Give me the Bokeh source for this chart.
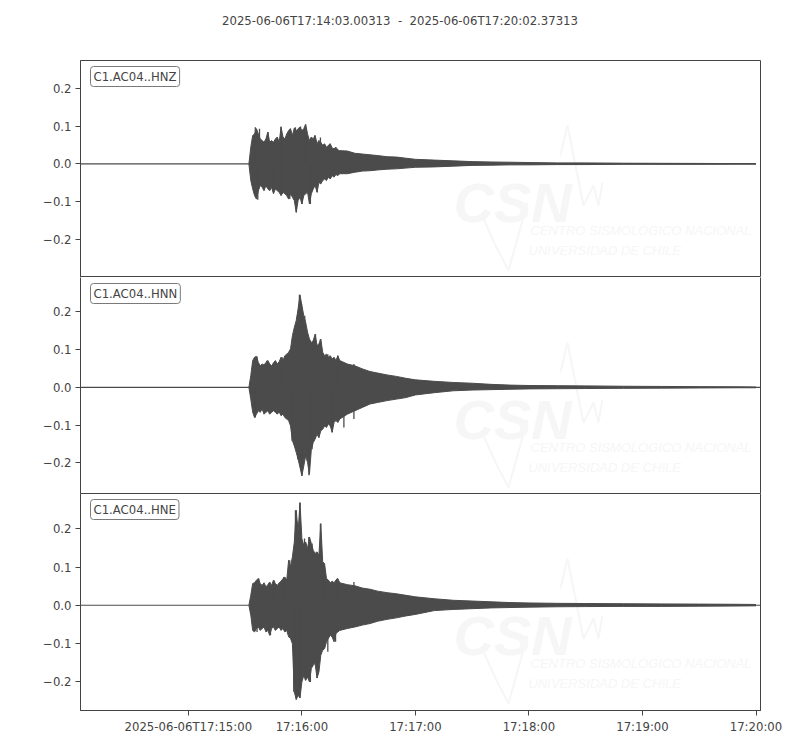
import numpy as np
import pandas as pd
from bokeh.plotting import figure
from bokeh.layouts import column
from bokeh.models import Range1d, FixedTicker, LinearAxis, Label
from bokeh.core.properties import value
from bokeh.embed import file_html
from bokeh.resources import INLINE

# reference time: 2025-06-06T17:15:00, all times in seconds after it
T0 = pd.Timestamp("2025-06-06 17:15:00")
T_START = pd.Timestamp("2025-06-06 17:14:03.00313")
T_STOP = pd.Timestamp("2025-06-06 17:20:02.37313")
TITLE = "2025-06-06T17:14:03.00313 \u00a0-\u00a0 2025-06-06T17:20:02.37313"

STATIONS = ["C1.AC04..HNZ", "C1.AC04..HNN", "C1.AC04..HNE"]
TRACE_END = [300.0, 302.37313, 302.37313]

# envelope sample times (s after 17:15:00): onset, 1 s steps through the strong part, then coarser
T_GRID = ([32] + list(range(33, 81)) +
          [84, 88, 92, 96, 100, 105, 110, 115, 120, 130, 140, 150, 160, 170, 180,
           195, 210, 230, 250, 270, 290, 300])

HNZ_HI = [0,
          0.044, 0.075, 0.079, 0.093, 0.079, 0.066, 0.062, 0.057, 0.066, 0.084, 0.057, 0.062,
          0.057, 0.066, 0.071, 0.057, 0.097, 0.071, 0.066, 0.079, 0.088, 0.093, 0.075, 0.095,
          0.088, 0.093, 0.097, 0.088, 0.093, 0.104, 0.079, 0.062, 0.071, 0.066, 0.075, 0.053,
          0.062, 0.057, 0.049, 0.053, 0.044, 0.049, 0.053, 0.042, 0.040, 0.044, 0.037, 0.035,
          0.034, 0.028, 0.026, 0.024, 0.022, 0.019, 0.018, 0.015, 0.012, 0.010, 0.008, 0.006,
          0.005, 0.0044, 0.0035, 0.0026, 0.0026, 0.0018, 0.0015, 0.0012, 0.0008, 0.0005]
HNZ_LO = [0,
          -0.044, -0.066, -0.084, -0.093, -0.071, -0.057, -0.062, -0.071, -0.057, -0.066,
          -0.071, -0.062, -0.079, -0.066, -0.071, -0.075, -0.084, -0.075, -0.079, -0.084,
          -0.093, -0.079, -0.088, -0.097, -0.128, -0.097, -0.088, -0.106, -0.084, -0.079,
          -0.075, -0.106, -0.079, -0.066, -0.057, -0.075, -0.049, -0.053, -0.044, -0.040,
          -0.044, -0.035, -0.040, -0.031, -0.035, -0.028, -0.031, -0.026,
          -0.026, -0.022, -0.019, -0.018, -0.016, -0.014, -0.013, -0.011, -0.009, -0.008,
          -0.006, -0.004, -0.0035, -0.0026, -0.0026, -0.0018, -0.0018, -0.0009, -0.0009,
          -0.0009, -0.0006, -0.0005]

HNN_HI = [0,
          0.031, 0.071, 0.080, 0.082, 0.066, 0.057, 0.062, 0.059, 0.066, 0.071, 0.062, 0.057,
          0.065, 0.071, 0.062, 0.068, 0.080, 0.071, 0.084, 0.088, 0.093, 0.102, 0.137, 0.159,
          0.177, 0.208, 0.245, 0.217, 0.190, 0.172, 0.146, 0.128, 0.119, 0.124, 0.141, 0.111,
          0.115, 0.128, 0.093, 0.084, 0.088, 0.080, 0.084, 0.075, 0.080, 0.071, 0.084, 0.071,
          0.062, 0.057, 0.049, 0.042, 0.038, 0.033, 0.029, 0.024, 0.020, 0.016, 0.013, 0.011,
          0.008, 0.006, 0.005, 0.0045, 0.004, 0.003, 0.0025, 0.002, 0.0015, 0.001]
HNN_LO = [0,
          -0.031, -0.066, -0.080, -0.071, -0.062, -0.066, -0.057, -0.071, -0.066, -0.062,
          -0.071, -0.066, -0.062, -0.066, -0.071, -0.065, -0.075, -0.071, -0.080, -0.084,
          -0.088, -0.102, -0.141, -0.155, -0.172, -0.190, -0.212, -0.234, -0.208, -0.181,
          -0.199, -0.230, -0.164, -0.146, -0.137, -0.124, -0.133, -0.115, -0.111, -0.102,
          -0.106, -0.097, -0.102, -0.119, -0.093, -0.088, -0.093, -0.084,
          -0.071, -0.062, -0.053, -0.044, -0.040, -0.035, -0.031, -0.027, -0.020, -0.014,
          -0.009, -0.007, -0.006, -0.005, -0.004, -0.0035, -0.003, -0.0025, -0.002,
          -0.0015, -0.001, -0.001]

HNE_HI = [0,
          0.026, 0.057, 0.059, 0.066, 0.070, 0.057, 0.052, 0.059, 0.048, 0.054, 0.061, 0.052,
          0.066, 0.057, 0.052, 0.059, 0.063, 0.070, 0.074, 0.066, 0.118, 0.101, 0.127, 0.166,
          0.249, 0.192, 0.269, 0.175, 0.157, 0.166, 0.149, 0.179, 0.162, 0.144, 0.136, 0.140,
          0.131, 0.214, 0.114, 0.109, 0.070, 0.066, 0.059, 0.063, 0.059, 0.066, 0.070, 0.059,
          0.054, 0.051, 0.045, 0.042, 0.037, 0.033, 0.030, 0.026, 0.022, 0.017, 0.013, 0.011,
          0.009, 0.007, 0.006, 0.005, 0.0045, 0.004, 0.0035, 0.003, 0.0025, 0.002]
HNE_LO = [0,
          -0.026, -0.066, -0.070, -0.061, -0.057, -0.066, -0.061, -0.057, -0.070, -0.066,
          -0.079, -0.061, -0.057, -0.066, -0.061, -0.057, -0.066, -0.061, -0.070, -0.066,
          -0.083, -0.087, -0.101, -0.227, -0.247, -0.236, -0.243, -0.201, -0.184, -0.197,
          -0.188, -0.201, -0.166, -0.157, -0.153, -0.191, -0.175, -0.131, -0.118, -0.114,
          -0.096, -0.087, -0.079, -0.083, -0.096, -0.074, -0.070, -0.066,
          -0.061, -0.057, -0.052, -0.048, -0.042, -0.037, -0.033, -0.028, -0.024, -0.014,
          -0.011, -0.009, -0.007, -0.006, -0.005, -0.004, -0.0035, -0.003, -0.003, -0.0025,
          -0.002, -0.0015]

# single large cycles standing out of the envelope
HNZ_SPK_T = [35.4, 37.6, 42.1, 49.0, 53.9, 56.6, 59.3, 61.9, 66.7, 69.8, 74.8,
             36.7, 44.8, 49.6, 53.6, 57.1, 60.1, 64.5, 68.1]
HNZ_SPK_A = [0.097, 0.093, 0.084, 0.099, 0.093, 0.097, 0.099, 0.104, 0.075, 0.070, 0.053,
             -0.095, -0.070, -0.079, -0.093, -0.128, -0.106, -0.106, -0.075]
HNN_SPK_T = [36.3, 41.6, 49.6, 58.7, 59.8, 61.5, 67.2, 69.8, 73.7, 79.0, 87.5,
             35.4, 54.8, 57.8, 60.1, 63.7, 65.4, 68.9, 76.0, 82.2, 87.5]
HNN_SPK_A = [0.082, 0.071, 0.080, 0.245, 0.221, 0.190, 0.141, 0.128, 0.088, 0.084, 0.062,
             -0.080, -0.141, -0.190, -0.234, -0.233, -0.164, -0.133, -0.119, -0.106, -0.084]
HNE_SPK_T = [37.2, 45.1, 50.4, 53.6, 56.6, 58.9, 57.5, 61.4, 63.7, 65.4, 69.8, 71.6, 78.7, 87.5,
             36.3, 43.4, 55.7, 57.1, 58.9, 61.9, 64.5, 68.1, 73.7, 77.8]
HNE_SPK_A = [0.070, 0.066, 0.074, 0.118, 0.249, 0.269, 0.219, 0.175, 0.179, 0.162, 0.214, 0.109,
             0.070, 0.061,
             -0.070, -0.079, -0.227, -0.247, -0.243, -0.197, -0.201, -0.191, -0.122, -0.096]

Y_TICKS = [-0.2, -0.1, 0.0, 0.1, 0.2]
Y_LABELS = ["\u22120.2", "\u22120.1", "0.0", "0.1", "0.2"]
X_TICKS = ["2025-06-06 17:15:00", "2025-06-06 17:16:00", "2025-06-06 17:17:00",
           "2025-06-06 17:18:00", "2025-06-06 17:19:00", "2025-06-06 17:20:00"]
X_LABELS = ["2025-06-06T17:15:00", "17:16:00", "17:17:00", "17:18:00", "17:19:00", "17:20:00"]

Y_RANGES = [(-0.300, 0.273), (-0.281, 0.291), (-0.276, 0.293)]
FRAME_H = [217, 216, 217]
FRAME_W = 680

WAVE = "#4b4b4b"
AX = "#444444"
TXT = "#444444"
FONT = "DejaVu Sans"
FS = "11.7px"
WM = "#f6f6f6"


def ms(sec):
    return T0.value / 1e6 + np.asarray(sec, dtype=float) * 1000.0


def ts_ms(s):
    return pd.Timestamp(s).value / 1e6


xr = Range1d(start=ts_ms(T_START), end=ts_ms(T_STOP))

# title strip above the three panels; its frame lines up with the panels (x from the frame's left edge)
head = figure(frame_width=FRAME_W, frame_height=60, x_range=Range1d(0, FRAME_W),
              y_range=Range1d(60, 0), output_backend="svg", toolbar_location=None,
              x_axis_location=None, y_axis_location=None,
              min_border_left=80, min_border_right=30, min_border_top=0, min_border_bottom=0)
head.grid.visible = False
head.outline_line_color = None
head.text(x=[319.5], y=[20], text=[TITLE], text_align="center", text_baseline="middle",
          text_font=value(FONT), text_font_size=FS, text_color=TXT)

data = [(HNZ_HI, HNZ_LO, HNZ_SPK_T, HNZ_SPK_A),
        (HNN_HI, HNN_LO, HNN_SPK_T, HNN_SPK_A),
        (HNE_HI, HNE_LO, HNE_SPK_T, HNE_SPK_A)]

figs = [head]
for i, name in enumerate(STATIONS):
    hi, lo, spk_t, spk_a = data[i]
    y0, y1 = Y_RANGES[i]
    fh = FRAME_H[i]
    last = i == 2
    p = figure(frame_width=FRAME_W, frame_height=fh, x_range=xr, y_range=Range1d(y0, y1),
               x_axis_type="datetime", x_axis_location="below" if last else None,
               output_backend="svg", toolbar_location=None,
               min_border_left=80, min_border_right=30,
               min_border_top=0, min_border_bottom=30 if last else 0)
    p.xgrid.visible = False
    p.ygrid.visible = False
    p.background_fill_color = "white"
    p.border_fill_color = "white"

    # helpers: frame pixel -> data
    def fx(px):
        return xr.start + px / FRAME_W * (xr.end - xr.start)

    def fy(py):
        return y1 - py / fh * (y1 - y0)

    # faint CSN watermark
    p.text(x=[fx(373)], y=[fy(142)], text=["CSN"], text_font=value("Liberation Sans"),
           text_font_style="bold italic", text_font_size="56px", text_color=WM,
           text_baseline="alphabetic")
    p.text(x=[fx(450), fx(448)], y=[fy(170), fy(190)],
           text=["CENTRO SISMOLÓGICO NACIONAL", "UNIVERSIDAD DE CHILE"],
           text_font=value("Liberation Sans"), text_font_style="italic",
           text_font_size="13px", text_color=WM, text_baseline="alphabetic")
    p.line([fx(v) for v in [403, 415, 428, 447]], [fy(v) for v in [158, 185, 210, 142]],
           line_color=WM, line_width=2)
    p.line([fx(v) for v in [480, 487, 503, 513, 518, 522]],
           [fy(v) for v in [95, 65, 145, 125, 145, 122]], line_color=WM, line_width=2)

    # trace
    p.segment(x0=[ts_ms(T_START)], y0=[0], x1=[ms(TRACE_END[i])], y1=[0],
              line_color=WAVE, line_width=1.2)
    xs = ms(T_GRID)
    p.varea(x=xs, y1=lo, y2=hi, fill_color=WAVE)
    p.line(xs, hi, line_color=WAVE, line_width=1)
    p.line(xs, lo, line_color=WAVE, line_width=1)
    st = ms(spk_t)
    p.segment(x0=st, y0=np.zeros(len(st)), x1=st, y1=spk_a, line_color=WAVE, line_width=1.3)

    p.add_layout(Label(x=fx(10), y=fy(6), text=name, text_baseline="top", text_align="left",
                       text_font=FONT, text_font_size=FS, text_color=TXT,
                       border_line_color="#7a7a7a", border_line_width=1,
                       background_fill_color="white", padding=3, border_radius=3))

    ya = p.yaxis[0]
    ya.ticker = FixedTicker(ticks=Y_TICKS)
    ya.major_label_overrides = dict(zip(Y_TICKS, Y_LABELS))
    ya.major_tick_out = 5
    ya.major_tick_in = 0
    ya.minor_tick_line_color = None
    ya.axis_line_color = AX
    ya.major_tick_line_color = AX
    ya.major_label_text_color = TXT
    ya.major_label_text_font = FONT
    ya.major_label_text_font_size = FS
    ya.major_label_standoff = 4

    if i == 1:
        p.outline_line_color = None
        ra = LinearAxis(ticker=FixedTicker(ticks=[]), axis_line_color=AX,
                        major_tick_line_color=None, minor_tick_line_color=None,
                        major_label_text_font_size="0px")
        p.add_layout(ra, "right")
    else:
        p.outline_line_color = AX
        p.outline_line_alpha = 1.0

    if last:
        xa = p.xaxis[0]
        xticks = [ts_ms(s) for s in X_TICKS]
        xa.ticker = FixedTicker(ticks=xticks)
        xa.major_label_overrides = dict(zip(xticks, X_LABELS))
        xa.major_tick_out = 5
        xa.major_tick_in = 0
        xa.minor_tick_line_color = None
        xa.axis_line_color = AX
        xa.major_tick_line_color = AX
        xa.major_label_text_color = TXT
        xa.major_label_text_font = FONT
        xa.major_label_text_font_size = FS
        xa.major_label_standoff = 4

    figs.append(p)

layout = column(figs, spacing=0)
open("out.html", "w").write(file_html(layout, INLINE))
